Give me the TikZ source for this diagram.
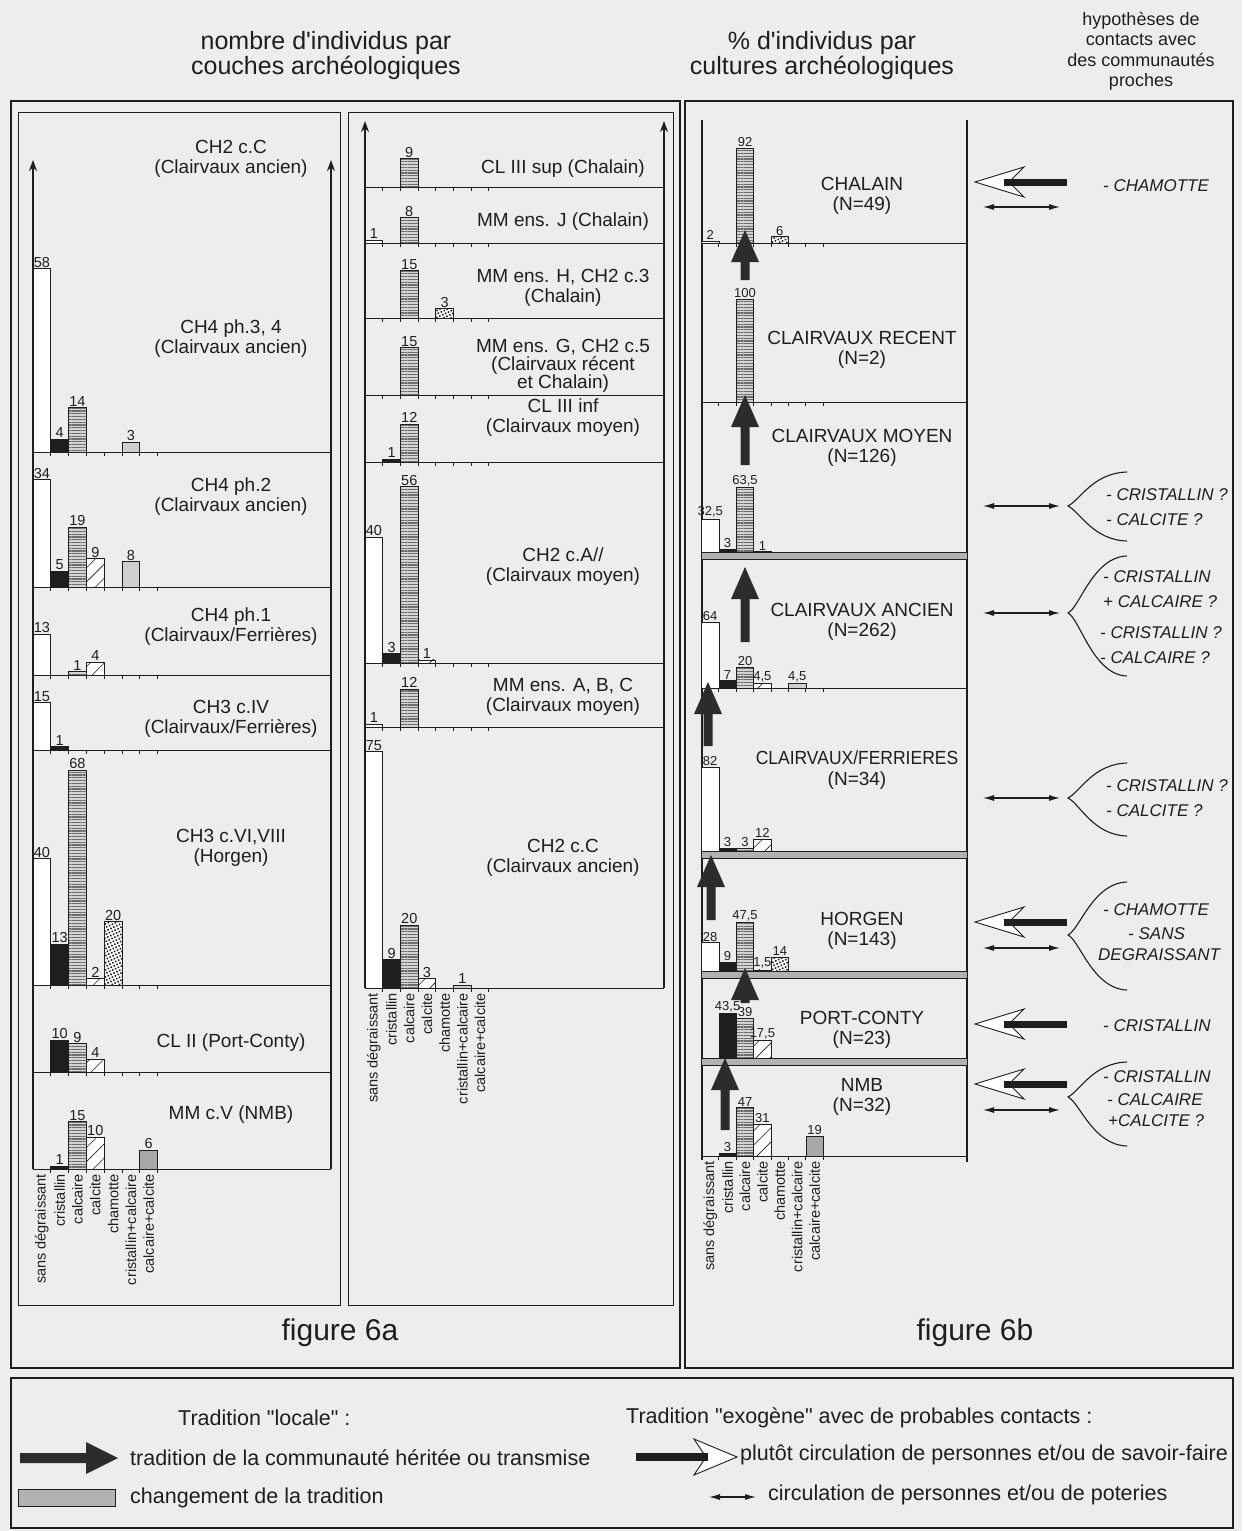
\documentclass[tikz,border=0pt]{standalone}
\usepackage{fontspec}
\setmainfont{Liberation Sans}[Ligatures=TeXOff]
\usetikzlibrary{patterns.meta,arrows.meta}
\definecolor{bgc}{HTML}{EDEDED}
\definecolor{ink}{HTML}{1E1E1E}
\definecolor{calcfill}{HTML}{D4D4D4}
\definecolor{calcline}{HTML}{6E6E6E}
\definecolor{darrow}{HTML}{2C2C2C}

\newcounter{nc}
% one bar of a histogram: slot, value, printed value, style
\newcommand\chbar[4]{%
  \pgfmathsetmacro\bxa{\xo+#1*\sw}%
  \pgfmathsetmacro\bxb{\bxa+\sw}%
  \pgfmathsetmacro\byt{\bl-#2*\sc}%
  \stepcounter{nc}%
  \draw[#4] (\bxa,\bl) rectangle (\bxb,\byt);
  \node[num] (v\thenc) at ({(\bxa+\bxb)/2},\byt) {#3};
}
% horizontal base line of one layer with its ticks
\newcommand\baseln[1]{%
  \draw[baseax] (\xo,#1) -- (\xr,#1);
  \foreach \k in {1,...,7}{\draw[baseax] ({\xo+\k*\sw},#1) -- ++(0,4);}
}
% grey band marking a change of tradition
\newcommand\bandln[1]{%
  \draw[band] (\xo,#1-3.5) rectangle (\xr,#1+3.5);
}
% rotated category names under an axis
\newcommand\catlabels[1]{%
  \foreach \t [count=\i from 0] in {sans dégraissant,cristallin,calcaire,calcite,chamotte,cristallin+calcaire,calcaire+calcite}{
    \node[cat] (#1\i) at ({\xo+(\i+0.5)*\sw},\bl+5) {\t};
  }
}
% thick upward arrow: local tradition
\newcommand\locup[3]{%
  \fill[darrow] (#1-4.5,#2) -- (#1-4.5,#3+32) -- (#1-14,#3+32) -- (#1,#3)
    -- (#1+14,#3+32) -- (#1+4.5,#3+32) -- (#1+4.5,#2) -- cycle;
}
% hollow-headed arrow pointing left: exogenous tradition
\newcommand\exoleft[1]{%
  \draw[ink, line width=0.9pt, fill=white] (975,#1) -- (1024,#1-15) -- (1009,#1) -- (1024,#1+15) -- cycle;
  \fill[ink] (1004,#1-3.5) rectangle (1067,#1+3.5);
}
\newcommand\dblarr[1]{\draw[dbl] (983,#1) -- (1060,#1);}
% curly fork opening to the right
\newcommand\fork[3]{%
  \draw[ink, line width=1.1pt] (1127,#2) .. controls (1093,#2+1) and (1080,#1-6) .. (1068,#1)
    .. controls (1080,#1+6) and (1093,#3-1) .. (1127,#3);
}

\begin{document}
\begin{tikzpicture}[x=1pt,y=-1pt,
  lay/.style={font=\fontsize{19}{20}\selectfont, align=center, inner sep=0pt, text=ink},
  cult/.style={font=\fontsize{19}{20.5}\selectfont, align=center, inner sep=0pt, text=ink},
  num/.style={font=\fontsize{\numsz}{\numsz}\selectfont, inner sep=0pt, anchor=south, yshift=1.2pt, text=ink},
  cat/.style={font=\fontsize{14.5}{15}\selectfont, inner sep=0pt, rotate=90, anchor=east, text=ink},
  ct/.style={font=\fontsize{17}{17}\selectfont\itshape, anchor=west, inner sep=0pt, text=ink},
  lgd/.style={font=\fontsize{21.5}{22}\selectfont, anchor=west, inner sep=0pt, text=ink},
  ttl/.style={align=center, inner sep=0pt, text=ink},
  sansd/.style={draw=ink, fill=white, line width=0.7pt},
  crist/.style={draw=ink, fill=ink, line width=0.7pt},
  calc/.style={preaction={fill=calcfill}, pattern={Lines[angle=0,distance=2.8pt,line width=1.1pt]}, pattern color=calcline, draw=ink, line width=0.7pt},
  calcite/.style={preaction={fill=white}, pattern={Lines[angle=45,distance=10pt,line width=0.6pt]}, pattern color=ink, draw=ink, line width=0.7pt},
  chamotte/.style={preaction={fill=white}, pattern={Dots[angle=25,distance=3.2pt,radius=1.1pt]}, pattern color=ink, draw=ink, line width=0.7pt},
  lgrey/.style={draw=ink, fill=gray!38, line width=0.7pt},
  mgrey/.style={draw=ink, fill=gray!68, line width=0.7pt},
  baseax/.style={ink, line width=1pt},
  band/.style={draw=ink, fill=gray!60, line width=0.8pt},
  vaxis/.style={ink, line width=1.4pt, -{Stealth[length=11pt,width=8pt]}},
  frame/.style={ink, line width=2.2pt},
  panel/.style={ink, line width=0.9pt},
  dbl/.style={ink, line width=1.1pt, {Latex[length=11pt,width=6pt]}-{Latex[length=11pt,width=6pt]}}
]
\fill[bgc] (0,0) rectangle (1242,1531);
\useasboundingbox (0,0) rectangle (1242,1531);

% ---------- headings ----------
\node[ttl, font=\fontsize{25}{25}\selectfont] (hA) at (326,55.5) {nombre d'individus par\\couches archéologiques};
\node[ttl, font=\fontsize{25}{25}\selectfont] (hB) at (822,55.5) {\% d'individus par\\cultures archéologiques};
\node[ttl, font=\fontsize{18}{20.5}\selectfont] (hC) at (1141,51) {hypothèses de\\contacts avec\\des communautés\\proches};

% ---------- frames ----------
\draw[frame] (11,101) rectangle (680,1368);
\draw[panel] (18,112) rectangle (340,1305);
\draw[panel] (348,112) rectangle (673,1305);
\draw[frame] (685,101) rectangle (1233,1368);
\draw[frame] (11,1378) rectangle (1233,1528);
\node[font=\fontsize{30}{30}\selectfont, inner sep=0pt, text=ink] (figA) at (340,1333) {figure 6a};
\node[font=\fontsize{30}{30}\selectfont, inner sep=0pt, text=ink] (figB) at (975,1333) {figure 6b};

% ---------- figure 6a, left column ----------
\def\xo{33}\def\sw{17.8}\def\sc{3.16}\def\xr{331}\def\numsz{14.5}
\draw[vaxis] (33,1169) -- (33,160);
\draw[vaxis] (331,1169) -- (331,160);
\node[lay] (a0) at (231,159) {CH2 c.C\\(Clairvaux ancien)};

\baseln{452}\def\bl{452}
\chbar{0}{58}{58}{sansd}\chbar{1}{4}{4}{crist}\chbar{2}{14}{14}{calc}\chbar{5}{3}{3}{lgrey}
\node[lay] (a1) at (231,339) {CH4 ph.3, 4\\(Clairvaux ancien)};

\baseln{587}\def\bl{587}
\chbar{0}{34}{34}{sansd}\chbar{1}{5}{5}{crist}\chbar{2}{19}{19}{calc}\chbar{3}{9}{9}{calcite}\chbar{5}{8}{8}{lgrey}
\node[lay] (a2) at (231,497) {CH4 ph.2\\(Clairvaux ancien)};

\baseln{675}\def\bl{675}
\chbar{0}{13}{13}{sansd}\chbar{2}{1}{1}{calc}\chbar{3}{4}{4}{calcite}
\node[lay] (a3) at (231,627) {CH4 ph.1\\(Clairvaux/Ferrières)};

\baseln{750}\def\bl{750}
\chbar{0}{15}{15}{sansd}\chbar{1}{1}{1}{crist}
\node[lay] (a4) at (231,719) {CH3 c.IV\\(Clairvaux/Ferrières)};

\baseln{985}\def\bl{985}
\chbar{0}{40}{40}{sansd}\chbar{1}{13}{13}{crist}\chbar{2}{68}{68}{calc}\chbar{3}{2}{2}{calcite}\chbar{4}{20}{20}{chamotte}
\node[lay] (a5) at (231,848) {CH3 c.VI,VIII\\(Horgen)};

\baseln{1072}\def\bl{1072}
\chbar{1}{10}{10}{crist}\chbar{2}{9}{9}{calc}\chbar{3}{4}{4}{calcite}
\node[lay] (a6) at (231,1043) {CL II (Port-Conty)};

\baseln{1169}\def\bl{1169}
\chbar{1}{1}{1}{crist}\chbar{2}{15}{15}{calc}\chbar{3}{10}{10}{calcite}\chbar{6}{6}{6}{mgrey}
\node[lay] (a7) at (231,1115) {MM c.V (NMB)};
\catlabels{ca}

% ---------- figure 6a, right column ----------
\def\xo{365}\def\sw{17.7}\def\sc{3.15}\def\xr{664}
\draw[vaxis] (365,988) -- (365,121);
\draw[vaxis] (664,988) -- (664,121);

\baseln{187}\def\bl{187}
\chbar{2}{9}{9}{calc}
\node[lay] (b1) at (563,169) {CL III sup (Chalain)};

\baseln{243}\def\bl{243}
\chbar{0}{1}{1}{sansd}\chbar{2}{8}{8}{calc}
\node[lay] (b2) at (563,222) {MM ens. J (Chalain)};

\baseln{318}\def\bl{318}
\chbar{2}{15}{15}{calc}\chbar{4}{3}{3}{chamotte}
\node[lay] (b3) at (563,288) {MM ens. H, CH2 c.3\\(Chalain)};

\baseln{395}\def\bl{395}
\chbar{2}{15}{15}{calc}
\node[lay, font=\fontsize{19}{18}\selectfont] (b4) at (563,366) {MM ens. G, CH2 c.5\\(Clairvaux récent\\et Chalain)};

\baseln{462}\def\bl{462}
\chbar{1}{1}{1}{crist}\chbar{2}{12}{12}{calc}
\node[lay] (b5) at (563,418) {CL III inf\\(Clairvaux moyen)};

\baseln{663}\def\bl{663}
\chbar{0}{40}{40}{sansd}\chbar{1}{3}{3}{crist}\chbar{2}{56}{56}{calc}\chbar{3}{1}{1}{calcite}
\node[lay] (b6) at (563,567) {CH2 c.A//\\(Clairvaux moyen)};

\baseln{727}\def\bl{727}
\chbar{0}{1}{1}{sansd}\chbar{2}{12}{12}{calc}
\node[lay] (b7) at (563,697) {MM ens. A, B, C\\(Clairvaux moyen)};

\baseln{988}\def\bl{988}
\chbar{0}{75}{75}{sansd}\chbar{1}{9}{9}{crist}\chbar{2}{20}{20}{calc}\chbar{3}{3}{3}{calcite}\chbar{5}{1}{1}{lgrey}
\node[lay] (b8) at (563,858) {CH2 c.C\\(Clairvaux ancien)};
\catlabels{cb}

% ---------- figure 6b ----------
\def\xo{701.5}\def\sw{17.4}\def\sc{1.03}\def\xr{967}\def\numsz{13}
\draw[ink, line width=1.5pt] (702,120) -- (702,1160);
\draw[ink, line width=1.5pt] (967,120) -- (967,1162);

\baseln{243}\def\bl{243}
\chbar{0}{2}{2}{sansd}\chbar{2}{92}{92}{calc}\chbar{4}{6}{6}{chamotte}
\node[cult] (k1) at (862,196) {CHALAIN\\(N=49)};

\baseln{402}\def\bl{402}
\chbar{2}{100}{100}{calc}
\node[cult] (k2) at (862,350) {CLAIRVAUX RECENT\\(N=2)};

\baseln{556}\def\bl{552.5}
\chbar{0}{32.5}{32,5}{sansd}\chbar{1}{3}{3}{crist}\chbar{2}{63.5}{63,5}{calc}\chbar{3}{1}{1}{calcite}
\bandln{556}
\node[cult] (k3) at (862,448) {CLAIRVAUX MOYEN\\(N=126)};

\baseln{688}\def\bl{688}
\chbar{0}{64}{64}{sansd}\chbar{1}{7}{7}{crist}\chbar{2}{20}{20}{calc}\chbar{3}{4.5}{4,5}{calcite}\chbar{5}{4.5}{4,5}{lgrey}
\node[cult] (k4) at (862,622) {CLAIRVAUX ANCIEN\\(N=262)};

\baseln{855}\def\bl{851.5}
\chbar{0}{82}{82}{sansd}\chbar{1}{3}{3}{crist}\chbar{2}{3}{3}{calc}\chbar{3}{12}{12}{calcite}
\bandln{855}
\node[cult] (k5) at (857,770) {\scalebox{0.92}[1]{CLAIRVAUX/FERRIERES}\\(N=34)};

\baseln{975}\def\bl{971.5}
\chbar{0}{28}{28}{sansd}\chbar{1}{9}{9}{crist}\chbar{2}{47.5}{47,5}{calc}\chbar{3}{1.5}{1,5}{calcite}\chbar{4}{14}{14}{chamotte}
\bandln{975}
\node[cult] (k6) at (862,931) {HORGEN\\(N=143)};

\baseln{1062}\def\bl{1058.5}
\chbar{1}{43.5}{43,5}{crist}\chbar{2}{39}{39}{calc}\chbar{3}{17.5}{17,5}{calcite}
\bandln{1062}
\node[cult] (k7) at (862,1030) {PORT-CONTY\\(N=23)};

\baseln{1156}\def\bl{1156}
\chbar{1}{3}{3}{crist}\chbar{2}{47}{47}{calc}\chbar{3}{31}{31}{calcite}\chbar{6}{19}{19}{mgrey}
\node[cult] (k8) at (862,1097) {NMB\\(N=32)};
\catlabels{cc}

% local tradition handed on from one culture to the next
\locup{745}{280}{230}
\locup{745}{465}{395}
\locup{745}{642}{567}
\locup{708}{746}{682}
\locup{711}{920}{855}
\locup{745}{1003}{968}
\locup{725}{1130}{1058}

% contacts with neighbouring communities
\exoleft{182}\dblarr{207}
\node[ct] (t1) at (1103,186) {- CHAMOTTE};

\dblarr{506}\fork{506}{472}{541}
\node[ct] (t2) at (1106,495) {- CRISTALLIN ?};
\node[ct] (t3) at (1106,520) {- CALCITE ?};

\dblarr{613}\fork{613}{556}{676}
\node[ct] (t4) at (1103,577) {- CRISTALLIN};
\node[ct] (t5) at (1103,602) {+ CALCAIRE ?};
\node[ct] (t6) at (1100,633) {- CRISTALLIN ?};
\node[ct] (t7) at (1100,658) {- CALCAIRE ?};

\dblarr{798}\fork{798}{763}{836}
\node[ct] (t8) at (1106,786) {- CRISTALLIN ?};
\node[ct] (t9) at (1106,811) {- CALCITE ?};

\exoleft{922}\dblarr{948}\fork{935}{882}{990}
\node[ct] (t10) at (1103,910) {- CHAMOTTE};
\node[ct] (t11) at (1128,934) {- SANS};
\node[ct] (t12) at (1098,955) {DEGRAISSANT};

\exoleft{1024}
\node[ct] (t13) at (1103,1026) {- CRISTALLIN};

\exoleft{1084}\dblarr{1110}\fork{1097}{1062}{1146}
\node[ct] (t14) at (1103,1077) {- CRISTALLIN};
\node[ct] (t15) at (1107,1100) {- CALCAIRE};
\node[ct] (t16) at (1108,1121) {+CALCITE ?};

% ---------- legend ----------
\node[lgd] (l1) at (178,1418) {Tradition "locale" :};
\fill[darrow] (20,1453) -- (86,1453) -- (86,1442) -- (118,1458) -- (86,1474) -- (86,1463) -- (20,1463) -- cycle;
\node[lgd] (l2) at (130,1458) {tradition de la communauté héritée ou transmise};
\draw[band, line width=1pt] (18,1489) rectangle (115,1506);
\node[lgd] (l3) at (130,1498) {changement de la tradition};
\node[lgd] (l4) at (626,1418) {Tradition "exogène" avec de probables contacts :};
\draw[ink, line width=0.9pt, fill=white] (737,1457) -- (694,1439) -- (706,1457) -- (694,1475) -- cycle;
\fill[ink] (636,1453) rectangle (708,1461);
\node[lgd] (l5) at (740,1455) {plutôt circulation de personnes et/ou de savoir-faire};
\draw[dbl] (709,1497) -- (756,1497);
\node[lgd] (l6) at (768,1495) {circulation de personnes et/ou de poteries};
\end{tikzpicture}
\end{document}
